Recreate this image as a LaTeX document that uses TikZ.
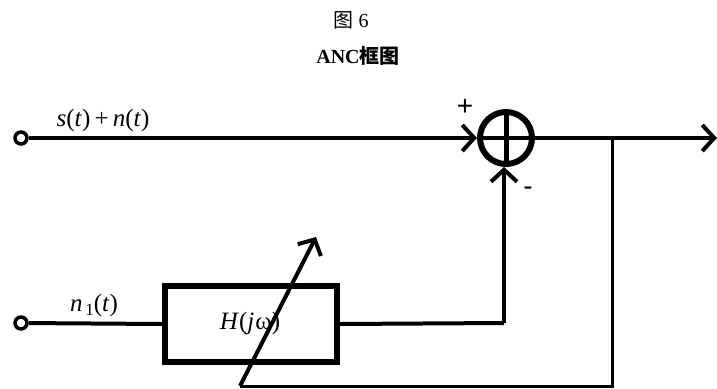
\documentclass[tikz,border=0pt]{standalone}
\usepackage{fontspec}
\setmainfont{Liberation Serif}
\setsansfont{Liberation Sans}
\newfontfamily\cjk{Noto Sans CJK SC}
\usetikzlibrary{arrows.meta}
\begin{document}
\begin{tikzpicture}[x=1pt,y=-1pt,
  sig/.style={line width=4pt},
  fb/.style={line width=3pt},
  tip/.style={-{Straight Barb[length=12pt,width=26pt,line width=4pt]}},
  term/.style={circle,draw,line width=3.5pt,minimum size=12pt,inner sep=0pt,fill=white},
  lbl/.style={inner sep=0pt,font=\fontsize{25}{27}\selectfont}]
\useasboundingbox (0,0) rectangle (717,388);
% titles
\node[inner sep=0pt,font=\fontsize{20}{22}\selectfont] (t1) at (351,20) {{\cjk 图}\ 6};
\node[inner sep=0pt,font=\fontsize{20}{22}\selectfont\bfseries] (t2) at (358,56) {ANC{\cjk\bfseries 框图}};
% nodes
\node[term] (in1) at (21,138) {};
\node[term] (in2) at (21,323) {};
\node[circle,draw,line width=6pt,minimum size=52pt,inner sep=0pt] (sum) at (506,138) {};
\node[draw,line width=6pt,minimum width=172pt,minimum height=76pt,inner sep=0pt] (H) at (251,324) {};
\node[lbl] (Hl) at (250,323) {\textit{H}(\textit{j}\kern1pt ω)};
\coordinate (out) at (717,138);
\coordinate (br) at (612,138);
\coordinate (bc) at (612,386);
\coordinate (fbs) at (240,386);
\coordinate (fbe) at (316,237);
\coordinate (hc) at (504,323);
% labels
\node[lbl] (ls) at (103,120) {\textit{s}(\textit{t})\,+\,\textit{n}(\textit{t})};
\node[lbl] (ln) at (94,305) {\textit{n}\raisebox{-4pt}{\fontsize{17}{18}\selectfont\,1}(\textit{t})};
\node[inner sep=0pt,font=\sffamily\fontsize{28}{30}\selectfont] (plus) at (465,107) {+};
\node[inner sep=0pt,font=\sffamily\fontsize{28}{30}\selectfont] (minus) at (528,191) {-};
% connectors
\draw[sig,tip] (in1) -- (sum.west);
\draw[sig,tip] (sum.east) -- (out);
\draw[line width=5pt] (sum.north) -- (sum.south);
\draw[sig] (sum.west) -- (sum.east);
\draw[sig] (in2) -- (H.west);
\draw[sig] (H.east) -- (hc);
\draw[sig,tip] (hc) -- (hc |- sum.south);
\draw[fb] (br) -- (bc) -- (fbs);
\draw[sig,tip] (fbs) -- (fbe);
\end{tikzpicture}
\end{document}
